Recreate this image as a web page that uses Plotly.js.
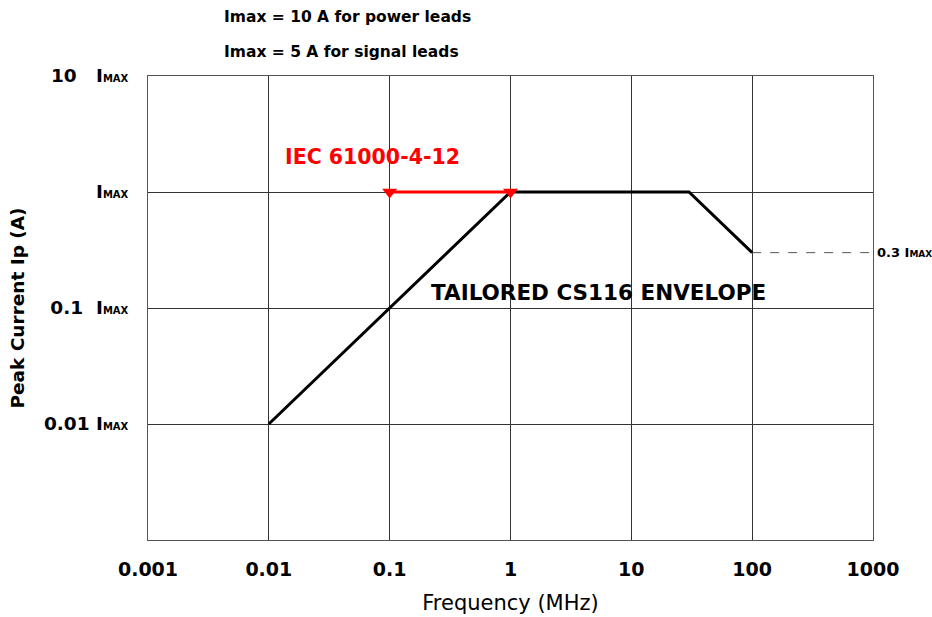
<!DOCTYPE html>
<html>
<head>
<meta charset="utf-8">
<script src="https://cdn.plot.ly/plotly-3.0.1.min.js"></script>
<style>html,body{margin:0;padding:0;background:#fff;}#chart{width:932px;height:617px;}</style>
</head>
<body>
<div id="chart"></div>
<script>
// Data
const envelopeFreq = [0.01, 1, 30, 100];
const envelopeCurrent = [0.01, 1, 1, 0.3];
const iecFreq = [0.1, 1];
const iecCurrent = [1, 1];
const extFreq = [100, 1000];
const extCurrent = [0.3, 0.3];
const xTickVals = [0.001, 0.01, 0.1, 1, 10, 100, 1000];
const xTickText = ['0.001', '0.01', '0.1', '1', '10', '100', '1000'];
const yTickVals = [0.01, 0.1, 1, 10];
const yTickNums = ['0.01', '0.1', '', '10'];

const FONT = 'DejaVu Sans, Verdana, sans-serif';
const sub = "<span style='font-size:10px'>MAX</span>";
const gaps = {'0.01': '\u00a0', '0.1': '\u00a0\u00a0', '10': '\u00a0\u00a0\u00a0'};
const yTickText = yTickNums.map(n => (n ? '<b>' + n + gaps[n] + 'I' + sub + '</b>' : '<b>I' + sub + '</b>'));

const traces = [
  {
    x: extFreq, y: extCurrent, mode: 'lines', type: 'scatter',
    line: {color: '#555', width: 1, dash: 'dash'}, hoverinfo: 'skip'
  },
  {
    x: envelopeFreq, y: envelopeCurrent, mode: 'lines', type: 'scatter',
    line: {color: '#000', width: 3}, hoverinfo: 'skip'
  },
  {
    x: iecFreq, y: iecCurrent, mode: 'lines+markers', type: 'scatter',
    line: {color: '#ff0000', width: 3},
    marker: {symbol: 'triangle-down', size: 13, color: '#ff0000'},
    hoverinfo: 'skip'
  }
];

const layout = {
  width: 932, height: 617,
  margin: {l: 148, r: 59, t: 76, b: 77},
  paper_bgcolor: '#fff', plot_bgcolor: '#fff',
  showlegend: false,
  font: {family: FONT, color: '#000'},
  xaxis: {
    type: 'log', range: [-3, 3],
    tickvals: xTickVals, ticktext: xTickText.map(t => '<b>' + t + '</b>'),
    tickfont: {size: 19, family: FONT},
    showgrid: true, gridcolor: '#333', gridwidth: 1,
    showline: true, linecolor: '#555', linewidth: 1, mirror: true,
    ticks: '', ticklabelstandoff: 12, zeroline: false,
    title: {text: 'Frequency (MHz)', font: {size: 21, family: FONT}, standoff: 16}
  },
  yaxis: {
    type: 'log', range: [-3, 1],
    tickvals: yTickVals, ticktext: yTickText,
    tickfont: {size: 18.5, family: FONT},
    showgrid: true, gridcolor: '#333', gridwidth: 1,
    showline: true, linecolor: '#555', linewidth: 1, mirror: true,
    ticks: '', ticklabelstandoff: 15, zeroline: false,
    title: {text: '<b>Peak Current Ip (A)</b>', font: {size: 18.5, family: FONT}, standoff: 14}
  },
  annotations: [
    {xref: 'paper', yref: 'paper', x: 0.102, y: 1.127, xanchor: 'left', yanchor: 'middle',
     text: '<b>Imax = 10 A for power leads</b>', showarrow: false, font: {size: 15.5, family: FONT}},
    {xref: 'paper', yref: 'paper', x: 0.102, y: 1.052, xanchor: 'left', yanchor: 'middle',
     text: '<b>Imax = 5 A for signal leads</b>', showarrow: false, font: {size: 15.5, family: FONT}},
    {xref: 'paper', yref: 'paper', x: 0.310, y: 0.825, xanchor: 'center', yanchor: 'middle',
     text: '<b>IEC 61000-4-12</b>', showarrow: false, font: {size: 20.5, family: FONT, color: '#ff0000'}},
    {xref: 'paper', yref: 'paper', x: 0.621, y: 0.534, xanchor: 'center', yanchor: 'middle',
     text: '<b>TAILORED CS116 ENVELOPE</b>', showarrow: false, font: {size: 21.5, family: FONT}},
    {xref: 'paper', yref: 'y', x: 1, y: Math.log10(0.3), xanchor: 'left', yanchor: 'middle', xshift: 2,
     text: '<b>0.3 I<span style="font-size:9px">MAX</span></b>', showarrow: false, font: {size: 13, family: FONT}}
  ]
};

Plotly.newPlot('chart', traces, layout, {staticPlot: true});
</script>
</body>
</html>
